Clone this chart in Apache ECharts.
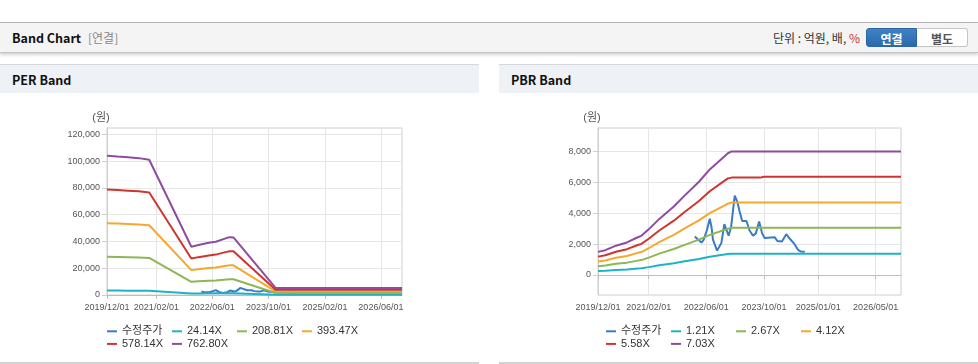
<!DOCTYPE html>
<html><head><meta charset="utf-8">
<script src="https://cdn.jsdelivr.net/npm/echarts@6/dist/echarts.min.js"></script>
<style>
html,body{margin:0;padding:0;background:#fff;width:978px;height:364px;overflow:hidden;font-family:"Noto Sans CJK KR","Liberation Sans",sans-serif;position:relative;}
.abs{position:absolute;}
#topline{left:0;top:22px;width:978px;height:1px;background:#b9b9b9;}
#hdr{left:0;top:23px;width:978px;height:29px;background:#f4f4f4;border-bottom:1px solid #c4c4c4;box-shadow:0 2px 3px rgba(0,0,0,0.18);}
#hdr .t{left:12px;top:0;line-height:29px;font-weight:bold;font-size:12.5px;color:#111;}
#hdr .s{left:88px;top:0;line-height:29px;font-size:12px;color:#888;}
#hdr .u{right:118px;top:0;line-height:29px;font-size:12px;color:#333;}
#hdr .u b{font-weight:normal;color:#c0392b;}
.btn{top:5px;height:19px;line-height:19px;width:51px;text-align:center;font-size:12px;font-weight:bold;box-sizing:border-box;}
#b1{left:866px;background:linear-gradient(#3f82c4,#2a69ad);color:#fff;border-radius:3px 0 0 3px;border:1px solid #2a64a3;}
#b2{left:917px;background:#fff;color:#555;border-radius:0 3px 3px 0;border:1px solid #c5c5c5;border-left:none;}
.ph{top:64px;height:28px;width:479px;background:#eef2f7;border-top:1px solid #d5d9de;}
.ph span{position:absolute;left:12px;top:1px;line-height:28px;font-weight:bold;font-size:12.5px;color:#111;}
.bl{top:362px;height:2px;width:479px;background:#d2d2d2;}
.chart{top:93px;width:479px;height:269px;}
</style></head>
<body>
<div id="topline" class="abs"></div>
<div id="hdr" class="abs">
  <div class="abs t">Band Chart</div>
  <div class="abs s">[연결]</div>
  <div class="abs u">단위 : 억원, 배, <b>%</b></div>
  <div id="b1" class="abs btn">연결</div>
  <div id="b2" class="abs btn">별도</div>
</div>
<div class="abs ph" style="left:0"><span>PER Band</span></div>
<div class="abs ph" style="left:499px"><span>PBR Band</span></div>
<div id="per" class="abs chart" style="left:0"></div>
<div id="pbr" class="abs chart" style="left:499px"></div>
<div class="abs bl" style="left:0"></div>
<div class="abs bl" style="left:499px"></div>
<script>
// ---- x range and tick labels ----
const xStart = '2019/12/01';
const xEnd = '2026/12/01';
const perTickLabels = ['2019/12/01','2021/02/01','2022/06/01','2023/10/01','2025/02/01','2026/06/01'];
const pbrTickLabels = ['2019/12/01','2021/02/01','2022/06/01','2023/10/01','2025/01/01','2026/05/01'];

// ---- adjusted price (수정주가), shared by both charts ----
const priceDates = ['2022/02/25','2022/03/19','2022/04/22','2022/05/10','2022/06/07','2022/07/01','2022/07/16','2022/07/28',
  '2022/09/01','2022/10/07','2022/11/01','2022/12/07','2022/12/28','2023/01/28','2023/02/19','2023/03/10','2023/04/01',
  '2023/05/07','2023/06/01','2023/07/01','2023/07/25','2023/08/22','2023/09/16','2023/10/07','2024/01/01','2024/01/22',
  '2024/03/01','2024/04/07','2024/05/01','2024/06/16','2024/07/13','2024/08/07','2024/09/10'];
const priceValues = [2500,2330,2100,2280,2900,3650,3100,2300,
  1580,2070,3300,2550,3100,5150,4750,4120,3500,
  3500,2900,2550,2700,3470,2700,2400,2450,2200,
  2170,2650,2400,2000,1650,1520,1500];

// ---- PER bands ----
const perNames = ['24.14X','208.81X','393.47X','578.14X','762.80X'];
const perDates = ['2019/12/01','2020/03/01','2020/06/01','2020/09/01','2020/12/01','2021/12/01','2022/02/01',
  '2022/05/01','2022/07/01','2022/10/01','2022/11/01','2022/12/01','2023/12/01','2026/12/01'];
const per24 = [3290,3270,3250,3240,3200,1140,1180,1230,1260,1350,1370,1360,170,170];
const per208 = [28470,28310,28140,27980,27650,9860,10210,10680,10900,11630,11830,11770,1440,1440];
const per393 = [53650,53340,53030,52720,52100,18570,19240,20120,20530,21920,22280,22180,2710,2710];
const per578 = [78820,78370,77910,77460,76550,27290,28270,29560,30170,32210,32740,32590,3980,3980];
const per762 = [104000,103400,102800,102200,101000,36000,37300,39000,39800,42500,43200,43000,5250,5250];

// ---- PBR bands ----
const pbrNames = ['1.21X','2.67X','4.12X','5.58X','7.03X'];
const pbrDates = ['2019/12/01','2020/02/01','2020/05/01','2020/08/01','2020/11/01','2020/12/01','2021/02/01',
  '2021/05/01','2021/09/01','2021/12/01','2022/04/01','2022/07/01','2022/11/01','2022/12/01','2023/01/01',
  '2023/09/01','2023/10/01','2026/12/01'];
const pbr121 = [258,277,327,363,422,437,509,626,764,886,1041,1179,1323,1360,1380,1380,1380,1380];
const pbr267 = [570,611,722,801,931,965,1124,1383,1686,1956,2298,2602,2921,3000,3060,3060,3060,3060];
const pbr412 = [879,944,1114,1237,1436,1489,1735,2133,2602,3018,3546,4015,4507,4630,4700,4700,4700,4700];
const pbr558 = [1191,1278,1508,1675,1945,2016,2349,2889,3524,4088,4802,5437,6104,6270,6320,6320,6380,6380];
const pbr703 = [1500,1610,1900,2110,2450,2540,2960,3640,4440,5150,6050,6850,7690,7900,8020,8020,8020,8020];

const priceName = '수정주가';
const colors = ['#3a7bc8','#1fb2c6','#8db654','#f5a82d','#d0342f','#8f4b9f'];

function ts(s){ return new Date(s.replace(/\//g,'-') + 'T00:00:00').getTime(); }
function pad(n){ return (n < 10 ? '0' : '') + n; }
function fmtDate(v){ const d = new Date(v); return d.getFullYear() + '/' + pad(d.getMonth()+1) + '/' + pad(d.getDate()); }
function pairs(dates, vals){ return dates.map((d, i) => [ts(d), vals[i]]); }

const FONT = "'Liberation Sans', 'Noto Sans CJK KR', sans-serif";

function buildOption(cfg){
  const tickTs = cfg.ticks.map(ts);
  const series = [{ name: priceName, data: pairs(priceDates, priceValues) }]
    .concat(cfg.bandNames.map((n, i) => ({ name: n, data: pairs(cfg.bandDates, cfg.bands[i]) })))
    .map((s, i) => ({
      type: 'line', name: s.name, data: s.data, showSymbol: false, symbol: 'none',
      color: colors[i], lineStyle: { width: 2, color: colors[i] }, animation: false
    }));
  return {
    animation: false,
    textStyle: { fontFamily: FONT },
    grid: { left: cfg.gridLeft, right: 77, top: 35, bottom: 67, show: true, borderColor: '#cfcfcf', borderWidth: 1 },
    legend: {
      left: 107, top: 232, width: 264, padding: 0, itemGap: 0, itemWidth: 10, itemHeight: 2,
      icon: 'rect', selectedMode: false,
      textStyle: { fontSize: 11, color: '#333', width: 50, lineHeight: 12.6, fontFamily: FONT },
      data: [priceName].concat(cfg.bandNames)
    },
    xAxis: {
      type: 'value', min: ts(xStart), max: ts(xEnd),
      axisLine: { lineStyle: { color: '#bdbdbd' } },
      axisTick: { show: true, length: 4, lineStyle: { color: '#bdbdbd' }, customValues: tickTs },
      axisLabel: { customValues: tickTs, formatter: fmtDate, fontSize: 9, color: '#555', margin: 8, hideOverlap: false },
      splitLine: { show: true, lineStyle: { color: '#e6e6e6' } }
    },
    yAxis: {
      type: 'value', min: cfg.yMin, max: cfg.yMax, splitNumber: cfg.splitNumber,
      name: '(원)', nameLocation: 'end', nameGap: 5,
      nameTextStyle: { fontSize: 11, color: '#555', align: 'center', padding: [0, 12, 0, 0] },
      axisLine: { show: true, lineStyle: { color: '#cfcfcf' } },
      axisTick: { show: true, length: 5, lineStyle: { color: '#cfcfcf' } },
      axisLabel: { fontSize: 9, color: '#555', margin: 7, showMinLabel: cfg.showMin, showMaxLabel: false },
      splitLine: { lineStyle: { color: '#e6e6e6' } }
    },
    series: series
  };
}

const perChart = echarts.init(document.getElementById('per'), null, { renderer: 'canvas' });
perChart.setOption(buildOption({
  ticks: perTickLabels, gridLeft: 107, yMin: 0, yMax: 124700, splitNumber: 6, showMin: true,
  bandNames: perNames, bandDates: perDates, bands: [per24, per208, per393, per578, per762]
}));
const pbrChart = echarts.init(document.getElementById('pbr'), null, { renderer: 'canvas' });
pbrChart.setOption(buildOption({
  ticks: pbrTickLabels, gridLeft: 99, yMin: -1300, yMax: 9540, splitNumber: 5, showMin: false,
  bandNames: pbrNames, bandDates: pbrDates, bands: [pbr121, pbr267, pbr412, pbr558, pbr703]
}));
</script>
</body></html>
